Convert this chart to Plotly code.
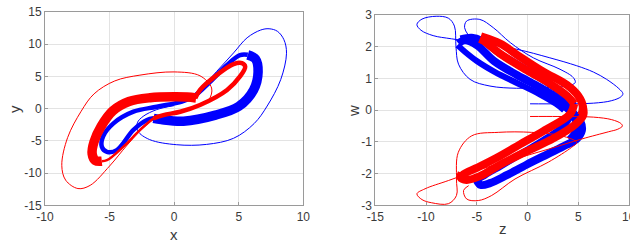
import plotly.graph_objects as go

RED = "#ff0000"
BLUE = "#0000ff"

# ---------------- left panel (x, y) ----------------
blue_xy_thin_x = [0.0, -1.35, -2.4, -2.85, -2.8, -1.9, 0.2, 2.5, 4.6, 6.2, 7.2, 8.25, 8.7, 8.5, 8.0, 7.35, 6.7, 5.65, 4.6, 3.3, 2.0, 1.25, 0.5]
blue_xy_thin_y = [0.47, -0.15, -1.2, -2.2, -3.5, -4.8, -5.6, -5.55, -4.6, -2.3, 0.4, 4.5, 8.6, 10.7, 12.0, 12.4, 12.2, 11.0, 8.65, 5.8, 2.95, 1.9, 1.3]

blue_xy_thick_x = [-1.6, -1.0, 0.72, 3.2, 5.0, 6.15, 6.5, 6.3, 5.7]
blue_xy_thick_y = [-1.5, -1.7, -1.95, -1.0, 0.35, 2.9, 5.7, 7.7, 8.35]

blue_xy_mid_x = [5.7, 5.1, 4.1, 2.8, 1.5, 0.6, -1.34, -3.15, -4.7, -5.5, -5.6, -5.2, -4.44, -3.15, -2.1, -1.6]
blue_xy_mid_y = [8.35, 8.3, 6.8, 4.2, 1.87, 1.1, 0.3, -0.47, -2.28, -4.3, -5.9, -6.7, -6.43, -3.3, -1.77, -1.5]

red_xy_thin_x = [2.0, 2.7, 2.9, 2.0, 0.0, -2.65, -4.6, -6.2, -7.2, -8.25, -8.7, -8.4, -7.45, -6.5, -5.0, -3.7, -2.65, -1.35, -0.5]
red_xy_thin_y = [0.4, 1.4, 3.2, 5.1, 5.7, 5.2, 4.3, 2.3, -0.4, -4.5, -8.8, -11.1, -12.4, -11.9, -8.9, -5.8, -3.5, -1.3, -0.8]

red_xy_thick_x = [1.7, 1.0, 0.0, -1.86, -3.5, -4.75, -5.67, -6.2, -6.35, -6.1, -5.6]
red_xy_thick_y = [1.65, 1.8, 1.85, 1.7, 1.1, -0.35, -2.8, -5.1, -7.0, -8.05, -8.15]

red_xy_link_x = [-5.6, -5.2, -3.93, -2.64, -1.6]
red_xy_link_y = [-8.15, -8.0, -5.9, -3.3, -1.5]

red_xy_loop_x = [-1.6, -0.83, 0.47, 2.0, 4.1, 5.1, 5.5, 5.25, 4.6, 3.3, 2.0, 1.63]
red_xy_loop_y = [-1.5, -1.0, -0.48, 0.57, 2.9, 5.0, 6.5, 7.05, 6.9, 5.2, 2.9, 1.6]

# ---------------- right panel (z, w) ----------------
blue_zw_thin_z = [0.25, 3.0, 6.5, 8.3, 9.2, 9.4, 9.0, 7.8, 6.5, 4.85, 2.2, -1.06, -4.35, -7.5, -9.3, -10.5, -10.9, -10.4, -9.0, -7.8, -7.2, -7.05, -6.8, -5.66, -3.7, -1.07, 1.23, 3.86, 4.7, 4.5, 3.2, 0.57, -1.7, -3.37, -4.7, -6.0, -6.2, -5.8]
blue_zw_thin_w = [0.2, 0.2, 0.22, 0.3, 0.42, 0.52, 0.68, 0.97, 1.2, 1.4, 1.65, 1.92, 2.1, 2.25, 2.35, 2.52, 2.7, 2.87, 2.96, 2.9, 2.65, 2.0, 1.45, 0.97, 0.76, 0.69, 0.71, 0.76, 0.87, 1.03, 1.29, 1.65, 2.13, 2.6, 2.86, 2.81, 2.6, 2.35]

blue_zw_a_z = [-6.8, -6.2, -5.0, -3.3, -1.0, 1.2, 2.9, 3.8, 4.5]
blue_zw_a_w = [2.1, 2.2, 2.05, 1.55, 1.1, 0.72, 0.38, 0.1, -0.1]
blue_zw_b_z = [-6.6, -5.5, -4.5, -2.8, -0.5, 1.8, 3.5, 4.6]
blue_zw_b_w = [2.25, 2.3, 2.2, 1.8, 1.35, 0.9, 0.5, 0.15]
blue_zw_c_z = [-6.9, -6.2, -5.0, -3.2, -1.0, 1.2, 2.8, 3.6]
blue_zw_c_w = [2.05, 1.85, 1.55, 1.2, 0.85, 0.5, 0.2, 0.0]
blue_zw_d_z = [4.5, 5.2, 5.35, 4.8, 3.8, 1.9, -0.1, -2.05, -3.7, -4.6, -5.0]
blue_zw_d_w = [-0.1, -0.35, -0.65, -0.92, -1.1, -1.4, -1.72, -2.05, -2.3, -2.36, -2.22]
blue_zw_e_z = [4.2, 3.4, 1.6, -0.5, -2.6, -4.2, -4.9, -4.6]
blue_zw_e_w = [-0.2, -0.55, -0.95, -1.35, -1.75, -2.05, -2.2, -2.4]
blue_zw_f_z = [4.6, 4.9, 4.7, 4.2]
blue_zw_f_w = [-0.15, -0.45, -0.75, -0.95]

red_zw_thin_z = [0.25, 3.0, 6.5, 8.3, 9.2, 9.35, 8.9, 8.0, 5.33, 2.05, -1.23, -4.5, -7.8, -10.1, -10.9, -10.4, -9.45, -7.8, -7.0, -7.0, -6.82, -5.5, -2.88, 0.41, 3.37, 4.85, 4.35, 2.05, -1.23, -3.53, -4.85, -6.0, -6.3, -5.8]
red_zw_thin_w = [-0.2, -0.2, -0.22, -0.3, -0.42, -0.5, -0.6, -0.68, -0.91, -1.23, -1.54, -1.85, -2.22, -2.48, -2.64, -2.82, -2.92, -2.95, -2.69, -2.17, -1.33, -0.81, -0.7, -0.7, -0.81, -1.02, -1.17, -1.64, -2.17, -2.69, -2.85, -2.8, -2.53, -2.38]

red_zw_a_z = [-4.6, -2.7, -0.74, 1.56, 3.86, 5.0, 5.45, 5.3]
red_zw_a_w = [2.33, 2.1, 1.68, 1.21, 0.8, 0.45, 0.12, -0.15]
red_zw_b_z = [-4.7, -4.3, -2.7, -0.09, 2.2, 3.9, 4.6]
red_zw_b_w = [2.25, 2.18, 1.78, 1.26, 0.84, 0.45, 0.2]
red_zw_c_z = [5.45, 5.5, 4.7, 2.55, -0.09, -2.7, -4.7, -6.0, -6.6, -6.5]
red_zw_c_w = [0.12, -0.15, -0.45, -0.89, -1.3, -1.72, -2.08, -2.2, -2.12, -1.98]
red_zw_d_z = [4.6, 4.2, 1.56, -0.74, -3.03, -5.0, -6.3, -6.6]
red_zw_d_w = [0.2, -0.12, -0.66, -1.08, -1.5, -1.82, -2.02, -2.12]

x_ticks = [-10, -5, 0, 5, 10]
y_ticks = [-15, -10, -5, 0, 5, 10, 15]
z_ticks = [-15, -10, -5, 0, 5]
w_ticks = [-3, -2, -1, 0, 1, 2, 3]

fig = go.Figure()


def add(xs, ys, color, width, ax):
    fig.add_trace(go.Scatter(
        x=xs, y=ys, mode="lines",
        line=dict(color=color, width=width, shape="spline", smoothing=1.0),
        xaxis="x" if ax == 1 else "x2", yaxis="y" if ax == 1 else "y2",
        showlegend=False, hoverinfo="skip"))


# left panel: blue then red
add(blue_xy_thin_x, blue_xy_thin_y, BLUE, 1, 1)
add(blue_xy_mid_x, blue_xy_mid_y, BLUE, 4.5, 1)
add(blue_xy_thick_x, blue_xy_thick_y, BLUE, 9.5, 1)
add(red_xy_thin_x, red_xy_thin_y, RED, 1, 1)
add(red_xy_link_x, red_xy_link_y, RED, 2.5, 1)
add(red_xy_loop_x, red_xy_loop_y, RED, 4.5, 1)
add(red_xy_thick_x, red_xy_thick_y, RED, 9.5, 1)

# right panel: blue then red
add(blue_zw_thin_z, blue_zw_thin_w, BLUE, 1, 2)
add(blue_zw_a_z, blue_zw_a_w, BLUE, 8, 2)
add(blue_zw_b_z, blue_zw_b_w, BLUE, 7, 2)
add(blue_zw_c_z, blue_zw_c_w, BLUE, 6, 2)
add(blue_zw_d_z, blue_zw_d_w, BLUE, 8, 2)
add(blue_zw_e_z, blue_zw_e_w, BLUE, 7, 2)
add(blue_zw_f_z, blue_zw_f_w, BLUE, 9, 2)
add(red_zw_thin_z, red_zw_thin_w, RED, 1, 2)
add(red_zw_a_z, red_zw_a_w, RED, 8, 2)
add(red_zw_b_z, red_zw_b_w, RED, 8, 2)
add(red_zw_c_z, red_zw_c_w, RED, 8, 2)
add(red_zw_d_z, red_zw_d_w, RED, 8, 2)

FONT = "Liberation Sans, Arial, sans-serif"
TICKC = "#3a3a3a"
GRID = "#e3e3e3"
LINEC = "#9a9a9a"


def labels(vals):
    return [str(v) for v in vals]


ax_common = dict(showgrid=True, gridcolor=GRID, gridwidth=1, zeroline=False,
                 showline=True, linecolor=LINEC, linewidth=1, mirror=True,
                 ticks="inside", ticklen=3, tickcolor=LINEC,
                 tickfont=dict(family=FONT, size=12, color=TICKC),
                 automargin=False, fixedrange=True)


def label(text, px, py, angle=0, size=15):
    return dict(text=text, x=px / 630, y=(244 - py) / 244, xref="paper", yref="paper",
                xanchor="center", yanchor="middle", showarrow=False, textangle=angle,
                font=dict(family=FONT, size=size, color=TICKC))


fig.update_layout(
    width=630, height=244,
    margin=dict(l=0, r=0, t=0, b=0),
    paper_bgcolor="white", plot_bgcolor="white",
    xaxis=dict(domain=[45 / 630, 303.3 / 630], range=[-10, 10], tickvals=x_ticks,
               ticktext=labels(x_ticks), anchor="y", **ax_common),
    yaxis=dict(domain=[38.7 / 244, 232 / 244], range=[-15, 15], tickvals=y_ticks,
               ticktext=labels(y_ticks), anchor="x", **ax_common),
    xaxis2=dict(domain=[375.3 / 630, 629 / 630], range=[-15, 10], tickvals=z_ticks,
                ticktext=labels(z_ticks), anchor="y2", **ax_common),
    yaxis2=dict(domain=[38.7 / 244, 229 / 244], range=[-3, 3], tickvals=w_ticks,
                ticktext=labels(w_ticks), anchor="x2", **ax_common),
    annotations=[
        label("x", 174, 234),
        label("y", 14, 109, -90),
        label("z", 503, 228),
        label("w", 353, 111, -90),
        label("10", 629, 217, 0, 12),
    ],
)

fig.write_html("out.html", config={"displayModeBar": False, "staticPlot": True},
               post_script="document.body.style.margin='0';document.body.style.overflow='hidden';")
